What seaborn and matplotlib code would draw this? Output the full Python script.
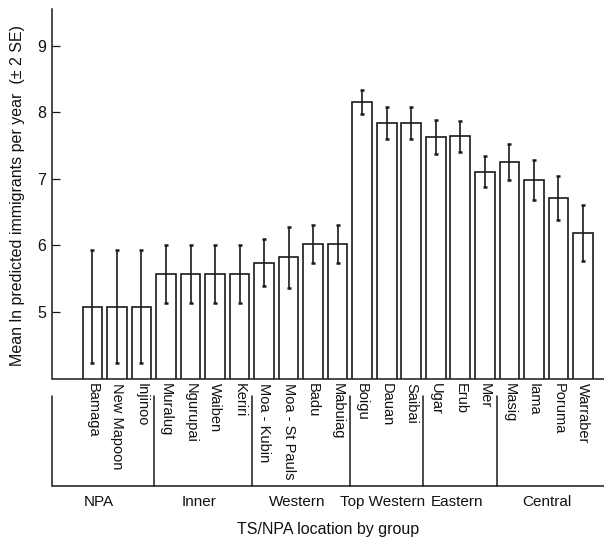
import pandas as pd
import matplotlib
matplotlib.use("Agg")
import matplotlib.pyplot as plt
import seaborn as sns

#site names along the x axis, in plotted order
sites = ["Bamaga", "New Mapoon", "Injinoo", "Muralug", "Ngurupai", "Waiben", "Keriri",
         "Moa - Kubin", "Moa - St Pauls", "Badu", "Mabuiag", "Boigu", "Dauan", "Saibai",
         "Ugar", "Erub", "Mer", "Masig", "Iama", "Poruma", "Warraber"]

#mean ln predicted immigrants per year
means = [5.08, 5.08, 5.08, 5.57, 5.57, 5.57, 5.57,
         5.74, 5.82, 6.02, 6.02, 8.15, 7.84, 7.84,
         7.63, 7.64, 7.11, 7.25, 6.99, 6.71, 6.19]

#half width of the error bars (2 SE)
two_se = [0.85, 0.85, 0.85, 0.43, 0.43, 0.43, 0.43,
          0.35, 0.46, 0.28, 0.28, 0.18, 0.24, 0.24,
          0.25, 0.23, 0.23, 0.27, 0.30, 0.33, 0.42]

#groups and how many sites in each
group_names = ["NPA", "Inner", "Western", "Top Western", "Eastern", "Central"]
group_sizes = [3, 4, 4, 3, 3, 4]

df = pd.DataFrame({"site": sites, "mean": means, "err": two_se})

sns.set_style("white")
plt.rcParams["font.family"] = ["Liberation Sans", "DejaVu Sans"]
plt.rcParams["text.color"] = "#111111"
plt.rcParams["xtick.color"] = "#111111"
plt.rcParams["ytick.color"] = "#111111"

ink = "#1a1a1a"

fig = plt.figure(figsize=(6.04, 5.4), dpi=100)
ax = fig.add_axes([51.7 / 604, 1 - 378.5 / 540, (604 - 51.7) / 604, (378.5 - 9.3) / 540])

sns.barplot(data=df, x="site", y="mean", order=sites, color="white", saturation=1,
            edgecolor=ink, linewidth=1.2, width=0.8, errorbar=None, ax=ax)
ax.errorbar(range(len(sites)), df["mean"], yerr=df["err"], fmt="none",
            ecolor=ink, elinewidth=1.2, capsize=1.5, capthick=1.8)

x_left, x_right = -1.66, 20.86
ax.set_xlim(x_left, x_right)
ax.set_ylim(4, 9.55)
ax.set_yticks([5, 6, 7, 8, 9])

sns.despine(ax=ax)
for side in ["left", "bottom"]:
    ax.spines[side].set_linewidth(1.1)
    ax.spines[side].set_color(ink)

ax.tick_params(axis="both", direction="in", length=6, width=0.9, color=ink,
               bottom=True, left=True)
ax.tick_params(axis="y", labelsize=11.5, pad=4)
ax.tick_params(axis="x", labelsize=10.5, pad=3, length=5, color="#555555")
plt.setp(ax.get_xticklabels(), rotation=-90, va="top", ha="center")
ax.set_xlabel("")
ax.set_ylabel("")

#group bracket under the site names
tr = ax.get_xaxis_transform()
y_top, y_bot = -0.047, -0.291
ax.plot([x_left, x_right], [y_bot, y_bot], color=ink, lw=1.1, transform=tr, clip_on=False)
edges = [x_left]
pos = 0
for n in group_sizes[:-1]:
    pos += n
    edges.append(pos - 0.5)
for e in edges:
    ax.plot([e, e], [y_top, y_bot], color=ink, lw=1.1, transform=tr, clip_on=False)
bounds = edges + [x_right]
for i, name in enumerate(group_names):
    mid = (bounds[i] + bounds[i + 1]) / 2
    ax.text(mid - 0.15, -0.334, name, transform=tr, ha="center", va="center", fontsize=11)

ax.text(0.5, -0.41, "TS/NPA location by group", transform=ax.transAxes,
        ha="center", va="center", fontsize=11.5)
fig.text(18 / 604, 1 - 195 / 540, "Mean ln predicted immigrants per year  (\u00b1 2 SE)",
         rotation=90, ha="center", va="center", fontsize=11.5)

fig.savefig("out.png", dpi=100)
